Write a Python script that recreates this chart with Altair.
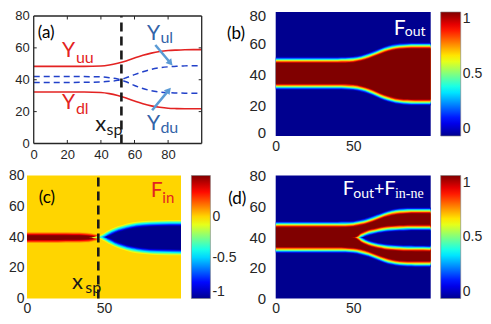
import altair as alt
import pandas as pd

# ---------------- values ----------------
X_DOMAIN = [0, 100]
Y_DOMAIN = [0, 80]
Y_TICKS = [0, 20, 40, 60, 80]
X_TICKS_A = [0, 20, 40, 60, 80]
X_TICKS_HEAT = [0, 50]
IN_TICKS_X = [20, 40, 60, 80]
IN_TICKS_Y = [20, 40, 60]

X = [0, 10, 20, 30, 40, 45, 50, 55, 60, 65, 70, 75, 80, 85, 90, 95, 100]

# (a) boundary curves
A_uu = [48.4, 48.4, 48.4, 48.4, 48.6, 49.2, 50.3, 51.8, 53.6, 55.3, 56.7, 57.7, 58.3, 58.6, 58.8, 58.9, 58.9]
A_dl = [32.3, 32.3, 32.3, 32.3, 32.0, 31.3, 30.1, 28.5, 26.7, 25.0, 23.6, 22.7, 22.1, 21.9, 21.8, 21.8, 21.8]
A_ul = [38.3, 38.3, 38.3, 38.4, 38.6, 39.0, 39.6, 41.2, 43.2, 45.0, 46.5, 47.5, 48.1, 48.5, 48.7, 48.8, 48.8]
A_du = [42.1, 42.1, 42.1, 42.0, 41.8, 41.3, 40.5, 38.7, 36.4, 34.5, 33.1, 32.3, 31.9, 31.7, 31.6, 31.6, 31.6]
A_XSP = [52.2]

# (b) F_out band edges
B_up = [49.3, 49.3, 49.3, 49.3, 49.3, 49.4, 49.7, 50.6, 52.1, 54.0, 56.0, 57.4, 58.2, 58.5, 58.6, 58.6, 58.6]
B_lo = [31.5, 31.5, 31.5, 31.5, 31.5, 31.4, 31.1, 30.2, 28.7, 26.6, 24.5, 23.0, 22.0, 21.6, 21.4, 21.4, 21.4]

# (c) F_in inner edges (crossed before x_sp, split after)
C_X = [0, 10, 20, 30, 38, 42, 45, 47, 48.5, 50, 53, 57, 62, 68, 75, 85, 100]
C_ul = [37.3, 37.3, 37.3, 37.4, 37.6, 38.0, 38.7, 39.3, 40.0, 40.9, 42.6, 44.5, 46.1, 47.6, 48.5, 49.0, 49.2]
C_du = [42.0, 42.0, 42.0, 41.9, 41.7, 41.3, 40.7, 40.4, 40.0, 39.1, 37.4, 35.4, 33.6, 31.9, 30.8, 30.1, 29.8]
C_XSP = [46.3]
C_RANGE = [-1, 0.5]

# (d) F_out + F_in-ne
D_up = [48.5, 48.5, 48.5, 48.5, 48.5, 48.6, 48.9, 49.8, 51.2, 53.0, 54.9, 56.3, 57.1, 57.4, 57.5, 57.5, 57.5]
D_lo = [31.2, 31.2, 31.2, 31.2, 31.2, 31.1, 30.8, 29.9, 28.5, 26.6, 24.7, 23.3, 22.5, 22.2, 22.1, 22.1, 22.1]
D_X = [0, 40, 48, 51, 53.3, 55, 58, 62, 66, 70, 75, 80, 85, 90, 100]
D_ul = [36.5, 36.5, 37.0, 38.3, 39.6, 41.0, 42.4, 43.6, 44.5, 45.2, 45.7, 46.0, 46.2, 46.3, 46.3]
D_du = [42.7, 42.7, 42.2, 40.9, 39.6, 38.2, 36.7, 35.2, 34.2, 33.5, 33.0, 32.7, 32.5, 32.4, 32.3]

CBAR_01 = [0, 0.5, 1]
CBAR_C = [-1, -0.5, 0]

# arrows in (a): start -> end
ARR_X = [72.4, 70.5]
ARR_Y = [61.8, 20.9]
ARR_X2 = [81.4, 80.4]
ARR_Y2 = [50.5, 33.5]
ARR_ANG = [140, 40]

# ---------------- styling ----------------
RED = "#E32322"
BLUE_TXT = "#3363A8"
BLUE_LINE = "#2241C9"
ARROW = "#5B9BD5"
DARK = "#1A1A1A"
AX = "#262626"
TICK_FONT = "Liberation Sans"
TXT_FONT = "Lato"
A_XDOM = [-4.0, 100]    # panel (a) view: room left of its frame
A_YDOM = [0, 82.5]      # panel (a) view: room above its frame

JET_FRAC = [0, 0.125, 0.375, 0.625, 0.875, 1]
JET_COL = ["#00008F", "#0000FF", "#00FFFF", "#FFFF00", "#FF0000", "#800000"]

BAND_EXP = [1.75, 1.25, 0.75, 0.25, -0.25, -0.75, -1.25, -1.75, -2.25]
BAND_VAL = [0.05, 0.17, 0.3, 0.43, 0.57, 0.7, 0.83, 0.95, 1.0]
WEDGE_VAL = [0.95, 0.83, 0.7, 0.57, 0.43, 0.3, 0.17, 0.05, 0.0]
STRIPE_EXP = [1.2, 0.8, 0.4, 0.0, -0.4, -0.8]
STRIPE_VAL = [0.05, 0.13, 0.22, 0.31, 0.4, 0.5]
CWEDGE_VAL = [-0.07, -0.2, -0.33, -0.45, -0.57, -0.7, -0.83, -0.95, -1.0]


def jet(lo, hi):
    return alt.Scale(domain=[lo + (hi - lo) * f for f in JET_FRAC], range=JET_COL,
                     interpolate="rgb", clamp=True)


def level_table(xs, lower, upper, exps, vals):
    rows = []
    for k, (e, v) in enumerate(zip(exps, vals)):
        for xi, lo, hi in zip(xs, lower, upper):
            b, t = lo - e, hi + e
            if t < b:
                b = t = (lo + hi) / 2.0
            rows.append({"x": xi, "b": b, "t": t, "v": v, "k": k})
    return pd.DataFrame(rows)


def encoders(xaxis, yaxis, xdom=X_DOMAIN, ydom=Y_DOMAIN):
    xsc = alt.Scale(domain=xdom, nice=False, zero=False)
    ysc = alt.Scale(domain=ydom, nice=False, zero=False)

    def ex(f="x"):
        return alt.X(f"{f}:Q", scale=xsc, axis=xaxis)

    def ey(f="y"):
        return alt.Y(f"{f}:Q", scale=ysc, axis=yaxis)
    return ex, ey


def area_layers(table, ex, ey, cenc):
    out = []
    for k in sorted(set(table["k"])):
        out.append(
            alt.Chart(table).transform_filter(alt.datum.k == int(k))
            .mark_area(interpolate="monotone", clip=True)
            .encode(x=ex(), y=ey("b"), y2="t:Q", color=cenc)
        )
    return out


def background(ex, ey, cenc, val):
    df = pd.DataFrame({"x": [X_DOMAIN[0]], "x2": [X_DOMAIN[1]],
                       "b": [Y_DOMAIN[0]], "t": [Y_DOMAIN[1]], "v": [val]})
    return alt.Chart(df).mark_rect().encode(x=ex(), x2="x2:Q", y=ey("b"), y2="t:Q", color=cenc)


def txt(ex, ey, t, x, y, fs, col, font=TXT_FONT):
    df = pd.DataFrame({"t": [t], "x": [x], "y": [y]})
    return alt.Chart(df).mark_text(align="left", baseline="alphabetic", fontSize=fs,
                                   color=col, font=font).encode(x=ex(), y=ey(), text="t:N")


def vdash(ex, ey, xv):
    df = pd.DataFrame({"x": xv, "y": [Y_DOMAIN[0]] * len(xv), "y2": [Y_DOMAIN[1]] * len(xv)})
    return alt.Chart(df).mark_rule(color=DARK, strokeWidth=2.6, strokeDash=[9, 5]).encode(
        x=ex(), y=ey(), y2="y2:Q")


def cbar(values, length, lx, thick=20, middle=True):
    kw = dict(title=None, type="gradient", orient="none", legendX=lx, legendY=0,
              direction="vertical", gradientLength=length, gradientThickness=thick,
              values=values, labelFontSize=14, labelFont=TICK_FONT, labelColor=AX,
              labelOffset=2, labelOverlap=False, labelExpr="'' + datum.value",
              gradientStrokeColor="#808080", gradientStrokeWidth=0.6, padding=0)
    if middle:
        kw["labelBaseline"] = "middle"
    return alt.Legend(**kw)


# ---------------- panel (a) ----------------
ax_a_x = alt.Axis(values=X_TICKS_A, title=None, tickSize=0, domain=False, grid=False,
                  labelFontSize=13, labelFont=TICK_FONT, labelColor=AX, labelPadding=5,
                  labelFlush=False)
exa, eya = encoders(ax_a_x, None, A_XDOM, A_YDOM)

red_df = pd.DataFrame({"x": X * 2, "y": A_uu + A_dl, "s": ["uu"] * len(X) + ["dl"] * len(X)})
blue_df = pd.DataFrame({"x": X * 2, "y": A_ul + A_du, "s": ["ul"] * len(X) + ["du"] * len(X)})
arr_df = pd.DataFrame({"x": ARR_X, "y": ARR_Y, "x2": ARR_X2, "y2": ARR_Y2, "ang": ARR_ANG})
tick_df = pd.DataFrame({
    "x": IN_TICKS_X * 2 + [X_DOMAIN[0]] * len(IN_TICKS_Y) + [X_DOMAIN[1] - 1.8] * len(IN_TICKS_Y),
    "x2": IN_TICKS_X * 2 + [X_DOMAIN[0] + 1.8] * len(IN_TICKS_Y) + [X_DOMAIN[1]] * len(IN_TICKS_Y),
    "y": [Y_DOMAIN[0]] * len(IN_TICKS_X) + [Y_DOMAIN[1] - 2.2] * len(IN_TICKS_X) + IN_TICKS_Y * 2,
    "y2": [Y_DOMAIN[0] + 2.2] * len(IN_TICKS_X) + [Y_DOMAIN[1]] * len(IN_TICKS_X) + IN_TICKS_Y * 2,
})
frame_df = pd.DataFrame({
    "x": [X_DOMAIN[0], X_DOMAIN[0], X_DOMAIN[0], X_DOMAIN[1]],
    "x2": [X_DOMAIN[1], X_DOMAIN[1], X_DOMAIN[0], X_DOMAIN[1]],
    "y": [Y_DOMAIN[0], Y_DOMAIN[1], Y_DOMAIN[0], Y_DOMAIN[0]],
    "y2": [Y_DOMAIN[0], Y_DOMAIN[1], Y_DOMAIN[1], Y_DOMAIN[1]],
})
ylab_df = pd.DataFrame({"x": [X_DOMAIN[0]] * len(Y_TICKS), "y": Y_TICKS,
                        "t": [str(v) for v in Y_TICKS]})

a_layers = [
    alt.Chart(tick_df).mark_rule(color=AX, strokeWidth=1).encode(x=exa(), x2="x2:Q", y=eya(), y2="y2:Q"),
    alt.Chart(red_df).mark_line(color=RED, strokeWidth=1.6, interpolate="monotone").encode(
        x=exa(), y=eya(), detail="s:N"),
    alt.Chart(blue_df).mark_line(color=BLUE_LINE, strokeWidth=1.5, strokeDash=[6, 4],
                                 interpolate="monotone").encode(x=exa(), y=eya(), detail="s:N"),
    vdash(exa, eya, A_XSP),
    alt.Chart(arr_df).mark_rule(color=ARROW, strokeWidth=2.5).encode(x=exa(), y=eya(), x2="x2:Q", y2="y2:Q"),
    alt.Chart(arr_df).mark_point(shape="triangle-up", filled=True, opacity=1, size=55, color=ARROW).encode(
        x=exa("x2"), y=eya("y2"), angle=alt.Angle("ang:Q", scale=alt.Scale(domain=[0, 360], range=[0, 360]))),
    alt.Chart(frame_df).mark_rule(color=AX, strokeWidth=1.3).encode(x=exa(), x2="x2:Q", y=eya(), y2="y2:Q"),
    alt.Chart(ylab_df).mark_text(align="right", baseline="middle", dx=-4, fontSize=13,
                                 font=TICK_FONT, color=AX).encode(x=exa(), y=eya(), text="t:N"),
    txt(exa, eya, "(a)", 2.4, 66.5, 17, "black"),
    txt(exa, eya, "Y", 16.9, 54.1, 21, RED),
    txt(exa, eya, "uu", 25.1, 50.3, 16, RED),
    txt(exa, eya, "Y", 16.9, 21.6, 21, RED),
    txt(exa, eya, "dl", 25.1, 18.4, 16, RED),
    txt(exa, eya, "x", 36.7, 7.9, 22, DARK),
    txt(exa, eya, "sp", 43.3, 5.5, 16, DARK),
    txt(exa, eya, "Y", 67.5, 64.9, 21, BLUE_TXT),
    txt(exa, eya, "ul", 75.4, 62.9, 16, BLUE_TXT),
    txt(exa, eya, "Y", 67.5, 8.4, 21, BLUE_TXT),
    txt(exa, eya, "du", 75.4, 6.4, 16, BLUE_TXT),
]
A = alt.layer(*a_layers).properties(width=174.7, height=131.5)

# ---------------- heat-map axes ----------------
def heat_axes(ylab_pad, yfs, flush=False):
    axx = alt.Axis(values=X_TICKS_HEAT, title=None, tickSize=0, domain=False, grid=False,
                   labelFontSize=14, labelFont=TICK_FONT, labelColor=AX, labelPadding=3,
                   labelFlush=False)
    if flush:
        axy = alt.Axis(values=Y_TICKS, title=None, tickSize=0, domain=False, grid=False,
                       labelFontSize=yfs, labelFont=TICK_FONT, labelColor=AX,
                       labelPadding=ylab_pad, labelFlush=True, labelFlushOffset=4)
    else:
        axy = alt.Axis(values=Y_TICKS, title=None, tickSize=0, domain=False, grid=False,
                       labelFontSize=yfs, labelFont=TICK_FONT, labelColor=AX,
                       labelPadding=ylab_pad)
    return encoders(axx, axy)


# ---------------- panel (b) ----------------
exb, eyb = heat_axes(10, 15, flush=True)
cb = alt.Color("v:Q", scale=jet(0, 1), legend=cbar(CBAR_01, 124, 165, middle=False))
b_tab = level_table(X, B_lo, B_up, BAND_EXP, BAND_VAL)
b_layers = [background(exb, eyb, cb, 0)] + area_layers(b_tab, exb, eyb, cb) + [
    txt(exb, eyb, "(b)", -31.5, 62.9, 17, "black"),
    txt(exb, eyb, "F", 76.1, 65.4, 21, "white"),
    txt(exb, eyb, "out", 83.3, 64.3, 14, "white"),
]
B = alt.layer(*b_layers).properties(width=155, height=124)

# ---------------- panel (c) ----------------
exc, eyc = heat_axes(3, 14)
cc = alt.Color("v:Q", scale=jet(C_RANGE[0], C_RANGE[1]), legend=cbar(CBAR_C, 123, 164.4, 19))
c_stripe = level_table(C_X, C_ul, C_du, STRIPE_EXP, STRIPE_VAL)
c_stripe["k"] = c_stripe["k"] + 100
c_wedge = level_table(C_X, C_du, C_ul, BAND_EXP, CWEDGE_VAL)
c_layers = ([background(exc, eyc, cc, 0)] + area_layers(c_stripe, exc, eyc, cc)
            + area_layers(c_wedge, exc, eyc, cc) + [
    vdash(exc, eyc, C_XSP),
    txt(exc, eyc, "(c)", 7.6, 62.1, 17, "black"),
    txt(exc, eyc, "F", 80.3, 65.7, 21, RED),
    txt(exc, eyc, "in", 87.9, 62.3, 15, RED),
    txt(exc, eyc, "x", 29.3, 6.0, 22, DARK),
    txt(exc, eyc, "sp", 37.8, 3.8, 16, DARK),
])
C = alt.layer(*c_layers).properties(width=154, height=123)

# ---------------- panel (d) ----------------
exd, eyd = heat_axes(10, 15)
cd = alt.Color("v:Q", scale=jet(0, 1), legend=cbar(CBAR_01, 123, 165))
d_band = level_table(X, D_lo, D_up, BAND_EXP, BAND_VAL)
d_wedge = level_table(D_X, D_du, D_ul, BAND_EXP, WEDGE_VAL)
d_wedge["k"] = d_wedge["k"] + 100
d_layers = ([background(exd, eyd, cd, 0)] + area_layers(d_band, exd, eyd, cd)
            + area_layers(d_wedge, exd, eyd, cd) + [
    txt(exd, eyd, "(d)", -30.6, 61.3, 17, "black"),
    txt(exd, eyd, "F", 43.2, 67.1, 20, "white"),
    txt(exd, eyd, "out", 50.1, 65.2, 14, "white"),
    txt(exd, eyd, "+", 63.4, 67.1, 18, "white"),
    txt(exd, eyd, "F", 70.1, 67.1, 20, "white"),
    txt(exd, eyd, "in-ne", 76.9, 65.2, 14, "white", "Liberation Serif"),
])
D = alt.layer(*d_layers).properties(width=155, height=123)

# ---------------- layout: 2x2 flush grid ----------------
chart = (alt.concat(A, B, C, D, columns=2, bounds="flush",
                    spacing={"row": 31.5, "column": 73.7})
         .resolve_scale(color="independent")
         .configure_view(strokeWidth=0)
         .properties(padding=0, background="white"))

chart.save("out.html", embed_options={"renderer": "svg", "actions": False})
